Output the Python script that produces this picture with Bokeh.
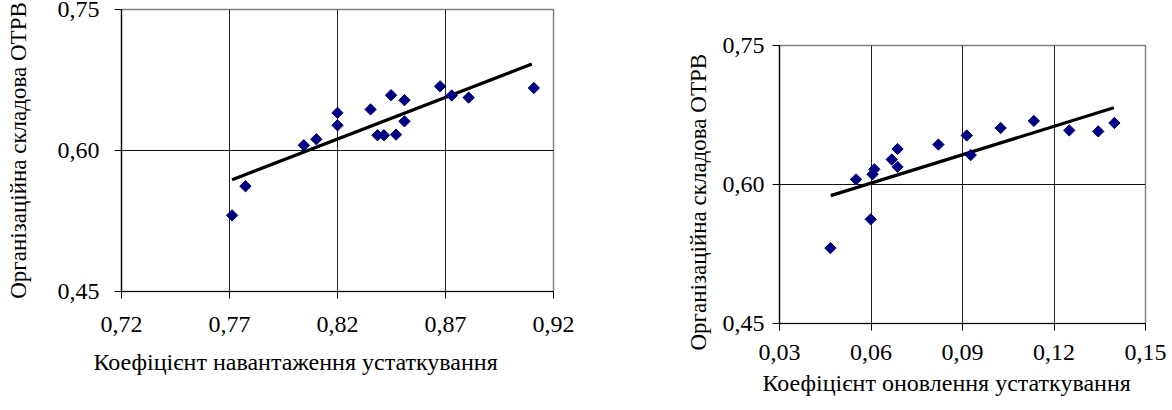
import math
from bokeh.plotting import figure
from bokeh.layouts import row
from bokeh.models import Range1d, FixedTicker, LinearAxis, Title
from bokeh.embed import file_html
from bokeh.resources import INLINE

# ---------------- data ----------------
y_title = "Організаційна складова ОТРВ"
y_ticks = [0.45, 0.60, 0.75]
y_tick_labels = ["0,45", "0,60", "0,75"]

# chart 1: load coefficient
x1_title = "Коефіцієнт навантаження устаткування"
x1_ticks = [0.72, 0.77, 0.82, 0.87, 0.92]
x1_tick_labels = ["0,72", "0,77", "0,82", "0,87", "0,92"]
load_coef = [0.7712, 0.7774, 0.8044, 0.8102, 0.8200, 0.8200, 0.8353, 0.8385,
             0.8415, 0.8448, 0.8471, 0.8510, 0.8510, 0.8675, 0.8729, 0.8807, 0.9109]
org_comp1 = [0.531, 0.562, 0.6056, 0.612, 0.640, 0.6268, 0.6437, 0.6162,
             0.6162, 0.6588, 0.6169, 0.6535, 0.631, 0.6683, 0.6585, 0.6563, 0.6665]
trend1_x = [0.7712, 0.9100]
trend1_y = [0.569, 0.692]

# chart 2: renewal coefficient
x2_title = "Коефіцієнт оновлення устаткування"
x2_ticks = [0.03, 0.06, 0.09, 0.12, 0.15]
x2_tick_labels = ["0,03", "0,06", "0,09", "0,12", "0,15"]
renew_coef = [0.0467, 0.0551, 0.0599, 0.0605, 0.0611, 0.0668, 0.0687, 0.0687,
              0.0821, 0.0914, 0.0927, 0.1025, 0.1134, 0.1250, 0.1345, 0.1398]
org_comp2 = [0.5314, 0.6055, 0.5624, 0.6110, 0.6164, 0.6270, 0.6190, 0.6383,
             0.6431, 0.6529, 0.6318, 0.6610, 0.6686, 0.6584, 0.6573, 0.6664]
trend2_x = [0.0468, 0.1396]
trend2_y = [0.588, 0.6828]

FONT = "serif"
FS = "24px"


def title_axis(text, size, standoff):
    """An axis that only carries a title."""
    return LinearAxis(ticker=FixedTicker(ticks=[]),
                      axis_label=text, axis_label_standoff=standoff,
                      axis_label_text_font=FONT, axis_label_text_font_size=size,
                      axis_label_text_font_style="normal", axis_label_text_color="black",
                      axis_line_color=None, major_tick_line_color=None,
                      minor_tick_line_color=None, major_tick_out=0, major_tick_in=0,
                      minor_tick_out=0, minor_tick_in=0, major_label_standoff=0)


def side_title(text, size, offset, standoff, valign):
    return Title(text=text, align="left", offset=offset, standoff=standoff,
                 vertical_align=valign, text_font=FONT, text_font_size=size,
                 text_font_style="normal", text_color="black")


def make_chart(xs, ys, tx, ty, xticks, xlabels, xtitle, xrange, *,
               width, height, mbl, mbr, mbt, mbb, y_standoff, x_standoff):
    p = figure(width=width, height=height, output_backend="svg",
               toolbar_location=None,
               x_range=Range1d(*xrange), y_range=Range1d(0.45, 0.75),
               min_border_left=mbl, min_border_right=mbr,
               min_border_top=mbt, min_border_bottom=mbb)
    p.frame_align = False
    p.background_fill_color = "white"
    p.border_fill_color = "white"
    p.outline_line_color = "#808080"
    p.outline_line_width = 1.5

    p.xaxis.ticker = FixedTicker(ticks=xticks)
    p.xaxis.major_label_overrides = dict(zip(xticks, xlabels))
    p.yaxis.ticker = FixedTicker(ticks=y_ticks)
    p.yaxis.major_label_overrides = dict(zip(y_ticks, y_tick_labels))

    for ax in (p.xaxis[0], p.yaxis[0]):
        ax.axis_line_color = "black"
        ax.axis_line_width = 1.2
        ax.major_tick_line_color = "black"
        ax.major_tick_in = 0
        ax.major_tick_out = 7
        ax.minor_tick_line_color = None
        ax.major_label_text_font = FONT
        ax.major_label_text_font_size = FS
        ax.major_label_text_color = "black"

    p.yaxis.major_label_standoff = y_standoff
    p.xaxis.major_label_standoff = x_standoff

    p.xgrid.ticker = FixedTicker(ticks=xticks)
    p.ygrid.ticker = FixedTicker(ticks=y_ticks)
    p.xgrid.grid_line_color = "#222222"
    p.ygrid.grid_line_color = "#111111"
    p.xgrid.grid_line_width = 1
    p.ygrid.grid_line_width = 1

    p.line(tx, ty, line_color="black", line_width=3.2)
    p.scatter(xs, ys, marker="square", size=8, angle=math.pi / 4,
              fill_color="#000080", line_color="#000080")
    return p


p1 = make_chart(load_coef, org_comp1, trend1_x, trend1_y, x1_ticks, x1_tick_labels,
                x1_title, (0.72, 0.92),
                width=608, height=410, mbl=121, mbr=55, mbt=9, mbb=119,
                y_standoff=15, x_standoff=18)
p1.add_layout(title_axis(y_title, "23px", 24), "left")
p1.add_layout(side_title(x1_title, FS, -28, 29, "top"), "below")

p2 = make_chart(renew_coef, org_comp2, trend2_x, trend2_y, x2_ticks, x2_tick_labels,
                x2_title, (0.03, 0.15),
                width=560, height=410, mbl=171, mbr=23, mbt=45, mbb=87,
                y_standoff=8, x_standoff=14)
p2.add_layout(side_title(y_title, "23px", -27, 18, "bottom"), "left")
p2.add_layout(side_title(x2_title, FS, -17, 10, "bottom"), "below")

layout = row(p1, p2)
open("out.html", "w").write(file_html(layout, INLINE))
